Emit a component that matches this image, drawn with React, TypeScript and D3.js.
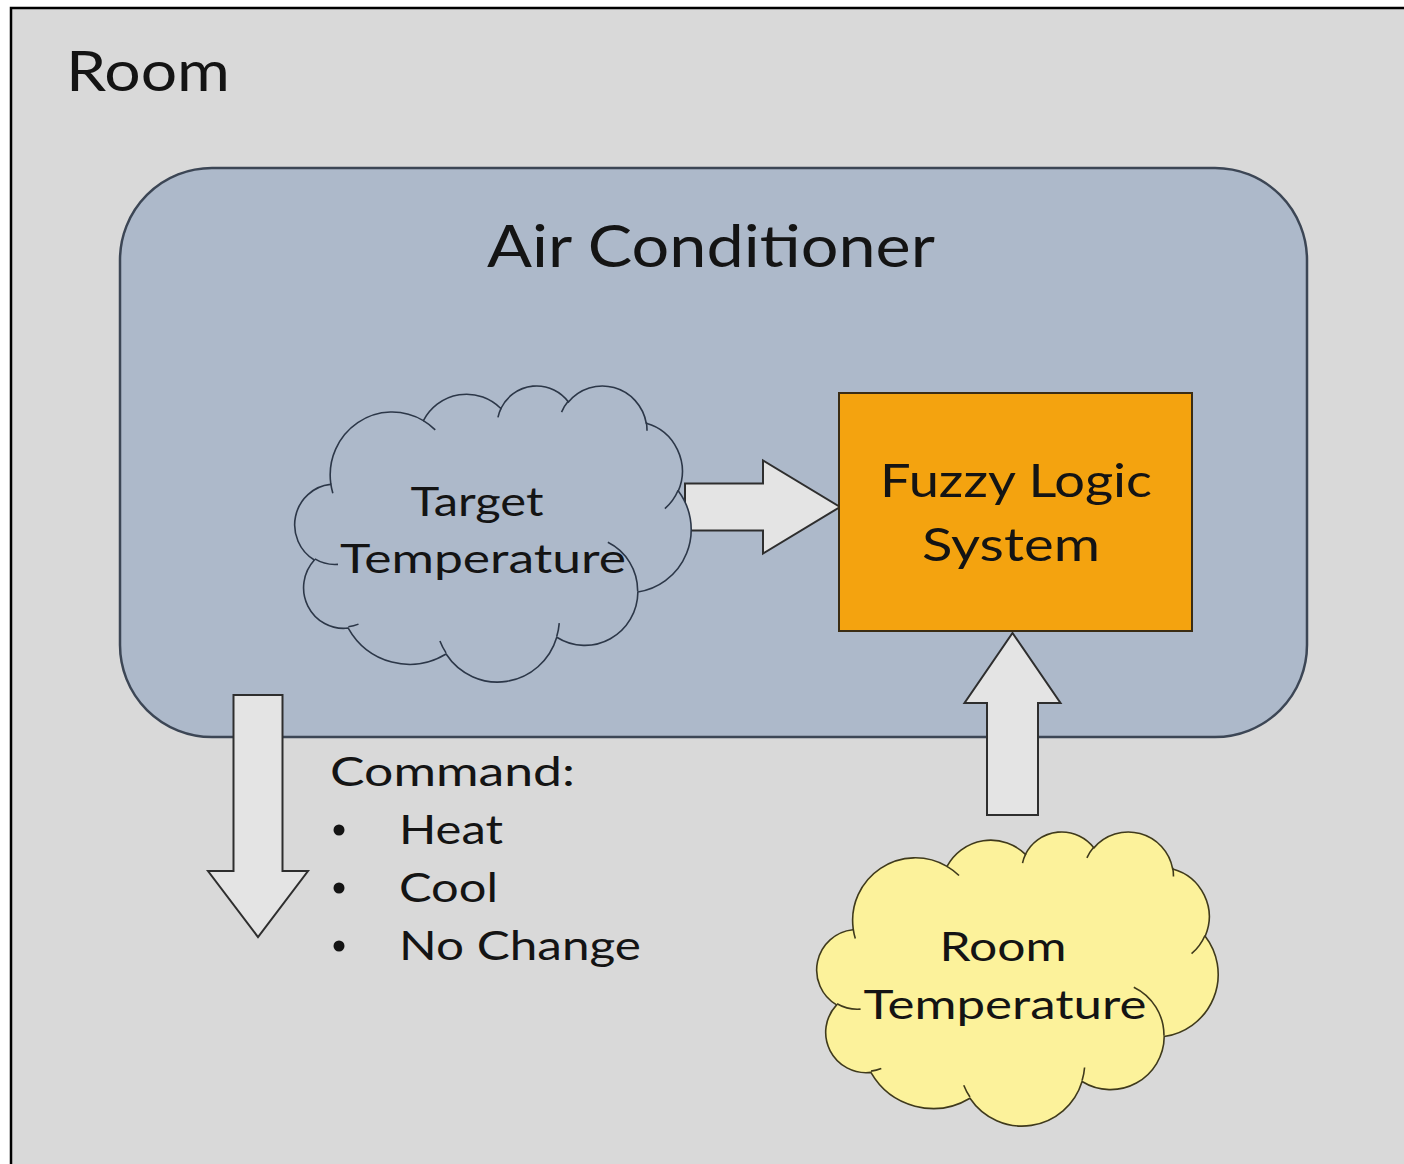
import React, { useEffect, useRef } from 'react';
import * as d3 from 'd3';

const W = 1404;
const H = 1164;

// labels
const ROOM_LABEL = 'Room';
const UNIT_LABEL = 'Air Conditioner';
const TARGET_LABEL = ['Target', 'Temperature'];
const FLS_LABEL = ['Fuzzy Logic', 'System'];
const ROOM_TEMP_LABEL = ['Room', 'Temperature'];
const COMMAND_LABEL = 'Command:';
const COMMANDS = ['Heat', 'Cool', 'No Change'];

// PowerPoint "cloud" preset, in its 43200 x 43200 path space
const CLOUD_START: [number, number] = [3900, 14370];
const CLOUD_ARCS = [
    [6753, 9190, -11429249, 7426832],
    [5333, 7267, -8646143, 5396714],
    [4365, 5945, -8748475, 5983381],
    [4857, 6595, -7859164, 7034504],
    [5333, 7273, -4722533, 6541615],
    [6775, 9220, -2776035, 7816140],
    [5785, 7867, 37501, 6842000],
    [6752, 9215, 1347096, 6910353],
    [7720, 10543, 3974558, 4542661],
    [4360, 5918, -16496525, 8804134],
    [4345, 5945, -14809710, 9151131],
];
// the little inner strokes where bumps meet
const CLOUD_HOOKS = [
    [4693, 26177, 4345, 5945, 5204520, 1585770],
    [6928, 34899, 4360, 5918, 4416628, 686848],
    [16478, 39090, 6752, 9215, 8257449, 844866],
    [28827, 34751, 6752, 9215, 387196, 959901],
    [34129, 22954, 5785, 7867, -4217541, 4255042],
    [41798, 15354, 5333, 7273, 1819082, 1665090],
    [38324, 5426, 4857, 6595, -824660, 891534],
    [29078, 3952, 4857, 6595, -8950887, 1091722],
    [22141, 4720, 4365, 5945, -9809656, 1061181],
    [14000, 5192, 6753, 9190, -4002417, 739161],
    [4127, 15789, 6753, 9190, 9459261, 711490],
];

const FONT = 'Lato, "Open Sans", sans-serif';
const INK = '#141414';

const toRad = (a: number) => (a / 60000) * Math.PI / 180;
const onEllipse = (wR: number, hR: number, a: number) => {
    const t = Math.atan2(wR * Math.sin(a), hR * Math.cos(a));
    return [wR * Math.cos(t), hR * Math.sin(t)];
};

// one OOXML arcTo, returns svg "A" command and the end point
function arcTo(p: number[], wR: number, hR: number, st: number, sw: number, x: any, y: any, kx: number, ky: number) {
    const e0 = onEllipse(wR, hR, toRad(st));
    const cx = p[0] - e0[0];
    const cy = p[1] - e0[1];
    const e1 = onEllipse(wR, hR, toRad(st + sw));
    const end = [cx + e1[0], cy + e1[1]];
    const large = Math.abs(sw / 60000) > 180 ? 1 : 0;
    const sweep = sw > 0 ? 1 : 0;
    return {
        cmd: `A${wR * kx},${hR * ky} 0 ${large} ${sweep} ${x(end[0])},${y(end[1])}`,
        end,
    };
}

function cloudPaths(x0: number, y0: number, x1: number, y1: number) {
    const x = d3.scaleLinear().domain([0, 43200]).range([x0, x1]);
    const y = d3.scaleLinear().domain([0, 43200]).range([y0, y1]);
    const kx = (x1 - x0) / 43200;
    const ky = (y1 - y0) / 43200;
    let p: number[] = CLOUD_START;
    let outline = `M${x(p[0])},${y(p[1])}`;
    CLOUD_ARCS.forEach(([wR, hR, st, sw]) => {
        const a = arcTo(p, wR, hR, st, sw, x, y, kx, ky);
        outline += a.cmd;
        p = a.end;
    });
    outline += 'Z';
    let hooks = '';
    CLOUD_HOOKS.forEach(([px, py, wR, hR, st, sw]) => {
        const a = arcTo([px, py], wR, hR, st, sw, x, y, kx, ky);
        hooks += `M${x(px)},${y(py)}${a.cmd}`;
    });
    return { outline, hooks };
}

// block arrow from tail to tip
function blockArrow(tail: number[], tip: number[], body: number, head: number, headLen: number) {
    const dx = tip[0] - tail[0];
    const dy = tip[1] - tail[1];
    const len = Math.hypot(dx, dy);
    const ux = dx / len, uy = dy / len;
    const nx = -uy, ny = ux;
    const bx = tip[0] - ux * headLen, by = tip[1] - uy * headLen;
    const pts: [number, number][] = [
        [tail[0] + nx * body, tail[1] + ny * body],
        [bx + nx * body, by + ny * body],
        [bx + nx * head, by + ny * head],
        [tip[0], tip[1]],
        [bx - nx * head, by - ny * head],
        [bx - nx * body, by - ny * body],
        [tail[0] - nx * body, tail[1] - ny * body],
    ];
    return d3.line()(pts) + 'Z';
}

export default function App() {
    const svgRef = useRef<SVGSVGElement>(null);

    useEffect(() => {
        if (!svgRef.current) return;
        const svg = d3.select(svgRef.current);
        svg.selectAll('*').remove();

        const text = (s: string, x: number, y: number, size: number, len: number, anchor = 'middle') =>
            svg.append('text')
                .attr('x', x)
                .attr('y', y)
                .attr('font-size', size)
                .attr('font-family', FONT)
                .attr('fill', INK)
                .attr('text-anchor', anchor)
                .attr('textLength', len)
                .attr('lengthAdjust', 'spacingAndGlyphs')
                .text(s);

        // page + room frame
        svg.append('rect').attr('width', W).attr('height', H).attr('fill', '#ffffff');
        svg.append('rect')
            .attr('x', 11).attr('y', 8)
            .attr('width', W + 20).attr('height', H + 20)
            .attr('fill', '#d9d9d9')
            .attr('stroke', '#000')
            .attr('stroke-width', 2.5);
        text(ROOM_LABEL, 66, 91, 57, 164, 'start');

        // air conditioner body
        svg.append('rect')
            .attr('x', 120).attr('y', 168)
            .attr('width', 1187).attr('height', 569)
            .attr('rx', 92).attr('ry', 92)
            .attr('fill', '#adb9ca')
            .attr('stroke', '#3c4655')
            .attr('stroke-width', 2.5);
        text(UNIT_LABEL, 711, 267, 58, 448);

        // target -> fuzzy arrow
        svg.append('path')
            .attr('d', blockArrow([685, 507], [840, 507], 23.5, 46.5, 77))
            .attr('fill', '#e4e4e4').attr('stroke', '#2e2e2e').attr('stroke-width', 2);

        // target temperature cloud
        const tc = cloudPaths(295, 385, 691, 681);
        svg.append('path').attr('d', tc.outline)
            .attr('fill', '#adb9ca').attr('stroke', '#2c3748').attr('stroke-width', 1.6);
        svg.append('path').attr('d', tc.hooks)
            .attr('fill', 'none').attr('stroke', '#2c3748').attr('stroke-width', 1.6);
        text(TARGET_LABEL[0], 477, 516, 41, 133);
        text(TARGET_LABEL[1], 483, 573, 41, 286);

        // fuzzy logic system
        svg.append('rect')
            .attr('x', 839).attr('y', 393)
            .attr('width', 353).attr('height', 238)
            .attr('fill', '#f4a30f')
            .attr('stroke', '#3a2c14')
            .attr('stroke-width', 2);
        text(FLS_LABEL[0], 1016, 497, 47, 272);
        text(FLS_LABEL[1], 1011, 561, 47, 178);

        // room temperature -> fuzzy arrow
        svg.append('path')
            .attr('d', blockArrow([1012.5, 815], [1012.5, 633], 25.5, 48, 70))
            .attr('fill', '#e4e4e4').attr('stroke', '#2e2e2e').attr('stroke-width', 2);

        // command arrow out of the unit
        svg.append('path')
            .attr('d', blockArrow([258, 695], [258, 937], 24.5, 50, 66))
            .attr('fill', '#e4e4e4').attr('stroke', '#2e2e2e').attr('stroke-width', 2);

        // command list
        text(COMMAND_LABEL, 330, 786, 41, 245, 'start');
        const rowY = d3.scaleLinear().domain([0, 1]).range([844, 902]);
        const widths = [104, 99, 242];
        COMMANDS.forEach((c, i) => {
            svg.append('circle')
                .attr('cx', 339).attr('cy', rowY(i) - 14).attr('r', 5.5)
                .attr('fill', INK);
            text(c, 399, rowY(i), 41, widths[i], 'start');
        });

        // room temperature cloud
        const rc = cloudPaths(817, 831, 1218, 1125);
        svg.append('path').attr('d', rc.outline)
            .attr('fill', '#fcf29b').attr('stroke', '#3f3a1c').attr('stroke-width', 1.6);
        svg.append('path').attr('d', rc.hooks)
            .attr('fill', 'none').attr('stroke', '#3f3a1c').attr('stroke-width', 1.6);
        text(ROOM_TEMP_LABEL[0], 1003, 961, 41, 127);
        text(ROOM_TEMP_LABEL[1], 1005, 1019, 41, 283);
    }, []);

    return (
        <svg
            ref={svgRef}
            width={W}
            height={H}
            style={{ position: 'absolute', left: 0, top: 0, display: 'block' }}
        />
    );
}
